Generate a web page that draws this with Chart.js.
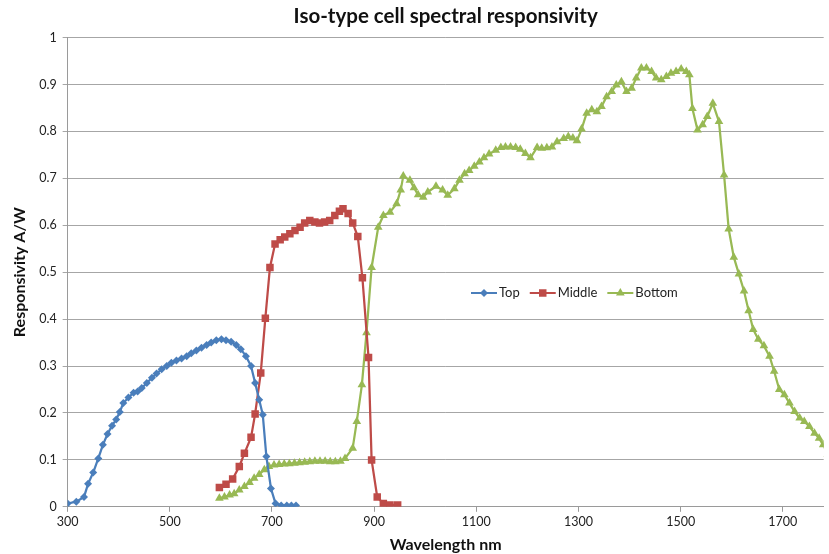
<!DOCTYPE html>
<html lang="en">
<head>
    <meta charset="UTF-8" />
    <title>Iso-type cell spectral responsivity</title>
    <script src="https://cdn.jsdelivr.net/npm/chart.js"></script>
    <style>
        body {
            margin: 0;
            background-color: #ffffff;
        }

        #wrap {
            width: 829px;
            height: 554px;
        }
    </style>
</head>
<body>
    <div id="wrap">
        <canvas id="respChart" width="829" height="554"></canvas>
    </div>

    <script>
        // wavelength (nm) and responsivity (A/W)
        const topWavelength = [300, 317, 332, 340, 350, 360, 369, 378, 387, 395, 402, 409, 419, 429, 437, 445, 455, 465, 474, 484, 494, 503, 513, 523, 533, 542, 552, 562, 572, 581, 591, 601, 610, 620, 630, 639, 649, 659, 667, 675, 682, 689, 698, 707, 718, 729, 738, 747];
        const topResp = [0.007, 0.011, 0.021, 0.049, 0.073, 0.103, 0.132, 0.155, 0.173, 0.186, 0.202, 0.221, 0.233, 0.243, 0.246, 0.253, 0.264, 0.275, 0.284, 0.293, 0.300, 0.307, 0.312, 0.316, 0.321, 0.327, 0.333, 0.339, 0.345, 0.350, 0.355, 0.357, 0.355, 0.352, 0.345, 0.336, 0.321, 0.300, 0.264, 0.228, 0.196, 0.107, 0.039, 0.007, 0.003, 0.003, 0.003, 0.003];

        const middleWavelength = [597, 610, 623, 636, 646, 659, 667, 678, 687, 696, 706, 716, 725, 735, 745, 755, 764, 774, 784, 793, 803, 813, 823, 832, 839, 849, 858, 868, 877, 889, 895, 906, 918, 931, 946];
        const middleResp = [0.041, 0.048, 0.059, 0.086, 0.114, 0.148, 0.198, 0.285, 0.402, 0.510, 0.560, 0.569, 0.575, 0.582, 0.589, 0.596, 0.605, 0.610, 0.607, 0.605, 0.607, 0.610, 0.621, 0.630, 0.635, 0.625, 0.605, 0.576, 0.488, 0.318, 0.100, 0.021, 0.007, 0.004, 0.004];

        const bottomWavelength = [597, 607, 617, 626, 636, 646, 656, 665, 675, 685, 694, 704, 714, 724, 734, 744, 754, 764, 774, 784, 794, 804, 814, 824, 834, 843, 858, 866, 876, 885, 895, 908, 918, 931, 944, 952, 957, 970, 978, 986, 996, 1005, 1021, 1034, 1044, 1057, 1067, 1077, 1086, 1096, 1106, 1115, 1125, 1138, 1148, 1157, 1167, 1177, 1186, 1196, 1206, 1219, 1228, 1238, 1248, 1258, 1271, 1280, 1289, 1297, 1306, 1316, 1326, 1336, 1345, 1355, 1365, 1374, 1384, 1394, 1404, 1413, 1423, 1433, 1443, 1452, 1462, 1472, 1481, 1491, 1501, 1511, 1517, 1523, 1533, 1543, 1552, 1563, 1575, 1585, 1594, 1604, 1614, 1624, 1633, 1642, 1652, 1663, 1674, 1683, 1693, 1703, 1713, 1723, 1733, 1742, 1752, 1762, 1771, 1779, 1788];
        const bottomResp = [0.018, 0.021, 0.025, 0.028, 0.036, 0.043, 0.052, 0.061, 0.069, 0.079, 0.086, 0.089, 0.090, 0.091, 0.092, 0.093, 0.094, 0.095, 0.096, 0.097, 0.097, 0.097, 0.096, 0.096, 0.097, 0.103, 0.125, 0.182, 0.260, 0.371, 0.510, 0.596, 0.621, 0.628, 0.646, 0.675, 0.705, 0.696, 0.680, 0.665, 0.660, 0.671, 0.683, 0.675, 0.664, 0.678, 0.696, 0.710, 0.717, 0.726, 0.735, 0.744, 0.752, 0.760, 0.766, 0.767, 0.767, 0.766, 0.762, 0.753, 0.744, 0.766, 0.764, 0.765, 0.767, 0.778, 0.785, 0.789, 0.786, 0.780, 0.805, 0.839, 0.846, 0.842, 0.853, 0.874, 0.885, 0.899, 0.906, 0.885, 0.892, 0.914, 0.935, 0.935, 0.928, 0.914, 0.910, 0.917, 0.924, 0.928, 0.933, 0.928, 0.921, 0.849, 0.803, 0.814, 0.832, 0.860, 0.821, 0.707, 0.592, 0.532, 0.496, 0.460, 0.418, 0.378, 0.357, 0.343, 0.321, 0.289, 0.250, 0.239, 0.221, 0.203, 0.189, 0.182, 0.171, 0.157, 0.146, 0.132, 0.112];

        const xTickValues = [300, 500, 700, 900, 1100, 1300, 1500, 1700];

        const toPoints = (xs, ys) => xs.map((x, i) => ({ x: x, y: ys[i] }));

        const labelFont = 'Lato, "Open Sans", sans-serif';

        // draws a marker shape at (x, y)
        function marker(ctx, style, x, y, r) {
            ctx.beginPath();
            if (style === 'rectRot') {
                ctx.moveTo(x, y - r);
                ctx.lineTo(x + r, y);
                ctx.lineTo(x, y + r);
                ctx.lineTo(x - r, y);
            } else if (style === 'rect') {
                const s = r * Math.SQRT1_2;
                ctx.rect(x - s, y - s, 2 * s, 2 * s);
            } else {
                ctx.moveTo(x, y - r);
                ctx.lineTo(x + r * 0.866, y + r * 0.5);
                ctx.lineTo(x - r * 0.866, y + r * 0.5);
            }
            ctx.closePath();
            ctx.fill();
        }

        // legend sits inside the plot, like the original
        const insideLegend = {
            id: 'insideLegend',
            afterDraw(chart, args, opts) {
                const ctx = chart.ctx;
                ctx.save();
                ctx.font = opts.font;
                ctx.textBaseline = 'middle';
                ctx.textAlign = 'left';
                let x = opts.x;
                const y = opts.y;
                chart.data.datasets.forEach(ds => {
                    ctx.strokeStyle = ds.borderColor;
                    ctx.fillStyle = ds.borderColor;
                    ctx.lineWidth = 2;
                    ctx.beginPath();
                    ctx.moveTo(x, y);
                    ctx.lineTo(x + 26, y);
                    ctx.stroke();
                    marker(ctx, ds.pointStyle, x + 13, y, ds.pointRadius);
                    ctx.fillStyle = opts.color;
                    ctx.fillText(ds.label, x + 28, y);
                    x += 28 + ctx.measureText(ds.label).width + 10;
                });
                ctx.restore();
            }
        };

        const ctx = document.getElementById('respChart').getContext('2d');
        new Chart(ctx, {
            type: 'scatter',
            data: {
                datasets: [{
                    label: 'Top',
                    data: toPoints(topWavelength, topResp),
                    showLine: true,
                    borderColor: '#4A7EBB',
                    backgroundColor: '#4A7EBB',
                    borderWidth: 2.25,
                    pointStyle: 'rectRot',
                    pointRadius: 4,
                    pointBorderWidth: 0
                }, {
                    label: 'Middle',
                    data: toPoints(middleWavelength, middleResp),
                    showLine: true,
                    borderColor: '#BE4B48',
                    backgroundColor: '#BE4B48',
                    borderWidth: 2.25,
                    pointStyle: 'rect',
                    pointRadius: 5.3,
                    pointBorderWidth: 0
                }, {
                    label: 'Bottom',
                    data: toPoints(bottomWavelength, bottomResp),
                    showLine: true,
                    borderColor: '#98B954',
                    backgroundColor: '#98B954',
                    borderWidth: 2.25,
                    pointStyle: 'triangle',
                    pointRadius: 5,
                    pointBorderWidth: 0
                }]
            },
            options: {
                responsive: false,
                animation: false,
                layout: {
                    padding: { left: 10, right: 0, top: 0, bottom: 0 }
                },
                plugins: {
                    legend: { display: false },
                    tooltip: { enabled: false },
                    title: {
                        display: true,
                        fullSize: false,
                        text: 'Iso-type cell spectral responsivity',
                        color: '#111',
                        font: { family: labelFont, size: 20.5, weight: 'bold' },
                        padding: { top: 4, bottom: 9 }
                    },
                    insideLegend: {
                        x: 471,
                        y: 293,
                        font: '13px Lato, "Open Sans", sans-serif',
                        color: '#222'
                    }
                },
                scales: {
                    x: {
                        type: 'linear',
                        min: 300,
                        max: 1780,
                        afterBuildTicks: axis => {
                            axis.ticks = xTickValues.map(v => ({ value: v }));
                        },
                        grid: {
                            drawOnChartArea: false,
                            drawTicks: true,
                            tickLength: 5,
                            color: '#9a9a9a'
                        },
                        border: { color: '#9a9a9a', width: 1 },
                        ticks: {
                            color: '#222',
                            font: { family: labelFont, size: 12.5 },
                            maxRotation: 0,
                            padding: 3,
                            callback: v => String(v)
                        },
                        title: {
                            display: true,
                            text: 'Wavelength nm',
                            color: '#111',
                            font: { family: labelFont, size: 16, weight: 'bold' },
                            padding: { top: 2, bottom: 0 }
                        }
                    },
                    y: {
                        min: 0,
                        max: 1,
                        ticks: {
                            stepSize: 0.1,
                            color: '#222',
                            font: { family: labelFont, size: 12.5 },
                            padding: 6,
                            callback: v => String(+v.toFixed(1))
                        },
                        grid: {
                            color: '#a6a6a6',
                            tickLength: 5
                        },
                        border: { color: '#9a9a9a', width: 1 },
                        title: {
                            display: true,
                            text: 'Responsivity A/W',
                            color: '#111',
                            font: { family: labelFont, size: 16, weight: 'bold' },
                            padding: { top: 0, bottom: 4 }
                        }
                    }
                }
            },
            plugins: [insideLegend]
        });
    </script>
</body>
</html>
